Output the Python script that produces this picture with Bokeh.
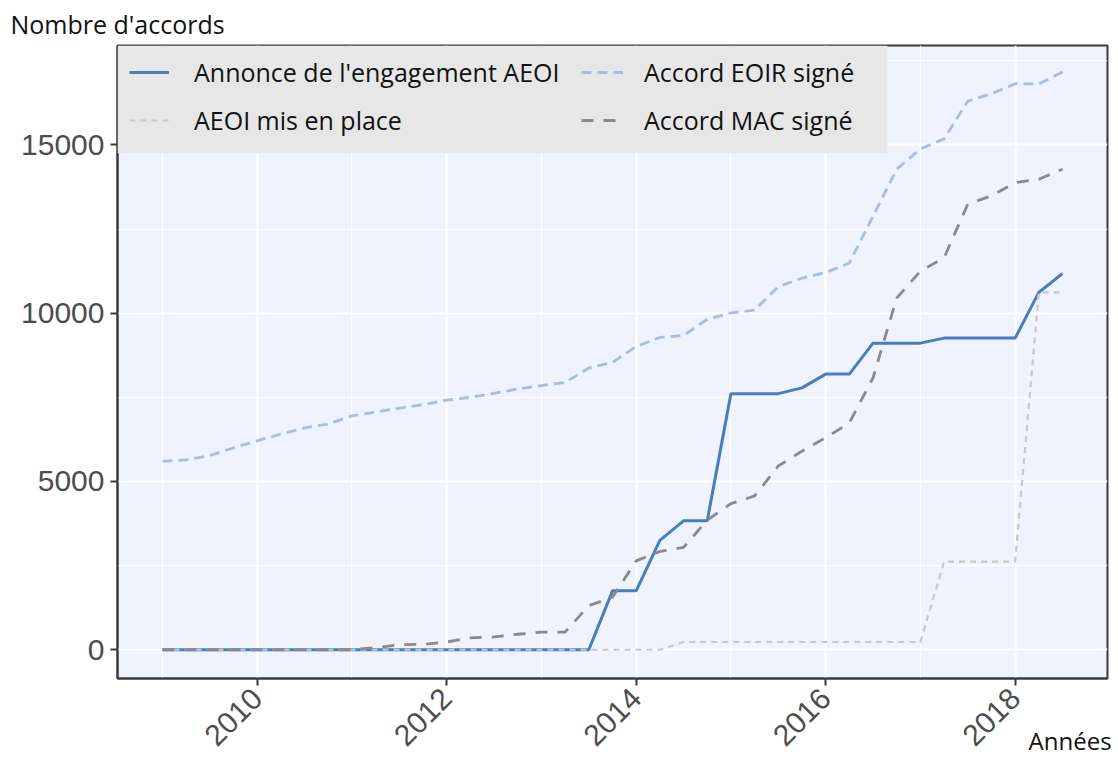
from bokeh.plotting import figure
from bokeh.models import (Range1d, FixedTicker, Legend, LegendItem,
                          BoxAnnotation)
from bokeh.embed import file_html
from bokeh.resources import INLINE
import math

# ---- data (quarterly) ----
years = [2009.0, 2009.25, 2009.5, 2009.75, 2010.0, 2010.25, 2010.5, 2010.75,
         2011.0, 2011.25, 2011.5, 2011.75, 2012.0, 2012.25, 2012.5, 2012.75,
         2013.0, 2013.25, 2013.5, 2013.75, 2014.0, 2014.25, 2014.5, 2014.75,
         2015.0, 2015.25, 2015.5, 2015.75, 2016.0, 2016.25, 2016.5, 2016.75,
         2017.0, 2017.25, 2017.5, 2017.75, 2018.0, 2018.25, 2018.5]

annonce_aeoi = [0, 0, 0, 0, 0, 0, 0, 0, 0, 0, 0, 0, 0, 0, 0, 0, 0, 0, 0,
                1750, 1750, 3250, 3830, 3830, 7610, 7610, 7610, 7780,
                8190, 8190, 9110, 9110, 9110, 9260, 9260, 9260, 9260,
                10620, 11180]

aeoi_en_place = [0, 0, 0, 0, 0, 0, 0, 0, 0, 0, 0, 0, 0, 0, 0, 0, 0, 0, 0,
                 0, 0, 0, 230, 230, 230, 230, 230, 230, 230, 230, 230, 230,
                 230, 2620, 2620, 2620, 2620, 10620, 10620]

eoir = [5600, 5640, 5770, 6000, 6210, 6410, 6590, 6710, 6950, 7060, 7180,
        7280, 7420, 7500, 7620, 7750, 7850, 7940, 8370, 8540, 9010, 9280,
        9340, 9820, 10010, 10090, 10790, 11040, 11210, 11490, 12880, 14280,
        14880, 15180, 16300, 16520, 16820, 16810, 17170]

mac = [0, 0, 0, 0, 0, 0, 0, 0, 0, 60, 150, 160, 230, 350, 380, 460, 525,
       525, 1310, 1560, 2640, 2920, 3040, 3850, 4340, 4570, 5460, 5900,
       6300, 6740, 8080, 10450, 11250, 11650, 13240, 13490, 13880, 13980,
       14280]

x_ticks = [2010, 2012, 2014, 2016, 2018]
x_minor = [2009, 2011, 2013, 2015, 2017]
y_ticks = [0, 5000, 10000, 15000]
y_minor = [2500, 7500, 12500, 17500]

labels = ["Annonce de l'engagement AEOI", "AEOI mis en place",
          "Accord EOIR signé", "Accord MAC signé"]
y_title = "Nombre d'accords"
x_title = "Années"

# ---- figure ----
XMIN, XMAX = 2008.525, 2018.975
YMIN, YMAX = -855, 17955

p = figure(width=1112, height=760, output_backend="svg", toolbar_location=None,
           x_range=Range1d(XMIN, XMAX), y_range=Range1d(YMIN, YMAX))
p.min_border_left = 117
p.min_border_right = 5
p.min_border_top = 44
p.min_border_bottom = 82

FRAME_COL = "#3a3a3a"
p.background_fill_color = "#eef3fd"
p.border_fill_color = "white"
p.outline_line_color = FRAME_COL
p.outline_line_width = 2

xt = FixedTicker(ticks=x_ticks, minor_ticks=x_minor)
yt = FixedTicker(ticks=y_ticks, minor_ticks=y_minor)
p.xaxis.ticker = xt
p.yaxis.ticker = yt
p.xgrid.ticker = xt
p.ygrid.ticker = yt

for g in (p.xgrid, p.ygrid):
    g.grid_line_color = "white"
    g.grid_line_width = 2
    g.minor_grid_line_color = "white"
    g.minor_grid_line_width = 1

for ax in (p.xaxis, p.yaxis):
    ax.axis_line_color = FRAME_COL
    ax.axis_line_width = 2
    ax.major_tick_line_color = FRAME_COL
    ax.major_tick_line_width = 2
    ax.major_tick_out = 7
    ax.major_tick_in = 0
    ax.minor_tick_line_color = None
    ax.major_label_text_font = "Liberation Sans"
    ax.major_label_text_font_size = "30px"
    ax.major_label_text_color = "#4d4d4d"
    ax.major_label_standoff = 6

p.xaxis.major_label_orientation = math.pi / 4
p.xaxis.major_label_standoff = 8

# ---- title (y-axis caption, top-left) ----
p.title.text = y_title
p.title.align = "left"
p.title.offset = -107
p.title.standoff = 9
p.title.text_font = "Open Sans"
p.title.text_font_size = "25px"
p.title.text_font_style = "normal"
p.title.text_color = "#111111"

# ---- x caption (bottom-right) ----
# the axis label is centred on the end of the axis; trailing no-break
# spaces push the visible word to the left so that it ends at the frame edge
xax = p.xaxis[0]
xax.axis_label = x_title + "\u00a0" * 12
xax.axis_label_text_font = "Open Sans"
xax.axis_label_text_font_size = "24px"
xax.axis_label_text_font_style = "normal"
xax.axis_label_text_color = "#111111"
xax.axis_label_standoff = -34
xax.axis_label_align = "end"

# ---- lines ----
r_annonce = p.line(years, annonce_aeoi, line_color="#4a7cc0", line_width=3)
r_eoir = p.line(years, eoir, line_color="#a8bbea", line_width=2.8,
                line_dash="10 6")
r_place = p.line(years, aeoi_en_place, line_color="#c8c8c8", line_width=2.2,
                 line_dash="6 5")
r_mac = p.line(years, mac, line_color="#8a8a8a", line_width=2.8,
               line_dash="12 10")

# ---- legend background ----
box = BoxAnnotation(left=XMIN, right=2016.653, bottom=14750, top=YMAX,
                    fill_color="#e7e7e7", fill_alpha=1, line_color=None)
p.add_layout(box)

def make_legend(items, location, glyph_w, standoff):
    return Legend(items=items, location=location, margin=0, padding=0,
                  spacing=14, glyph_width=glyph_w, glyph_height=30,
                  label_height=30, label_standoff=standoff,
                  label_text_font="Open Sans", label_text_font_size="25px",
                  label_text_color="#111111",
                  background_fill_alpha=0, border_line_color=None)

leg1 = make_legend([LegendItem(label=labels[0], renderers=[r_annonce]),
                    LegendItem(label=labels[1], renderers=[r_place])],
                   (12, 541), 40, 25)
leg2 = make_legend([LegendItem(label=labels[2], renderers=[r_eoir]),
                    LegendItem(label=labels[3], renderers=[r_mac])],
                   (464, 541), 42, 21)
p.add_layout(leg1)
p.add_layout(leg2)

open("out.html", "w").write(file_html(p, INLINE))
